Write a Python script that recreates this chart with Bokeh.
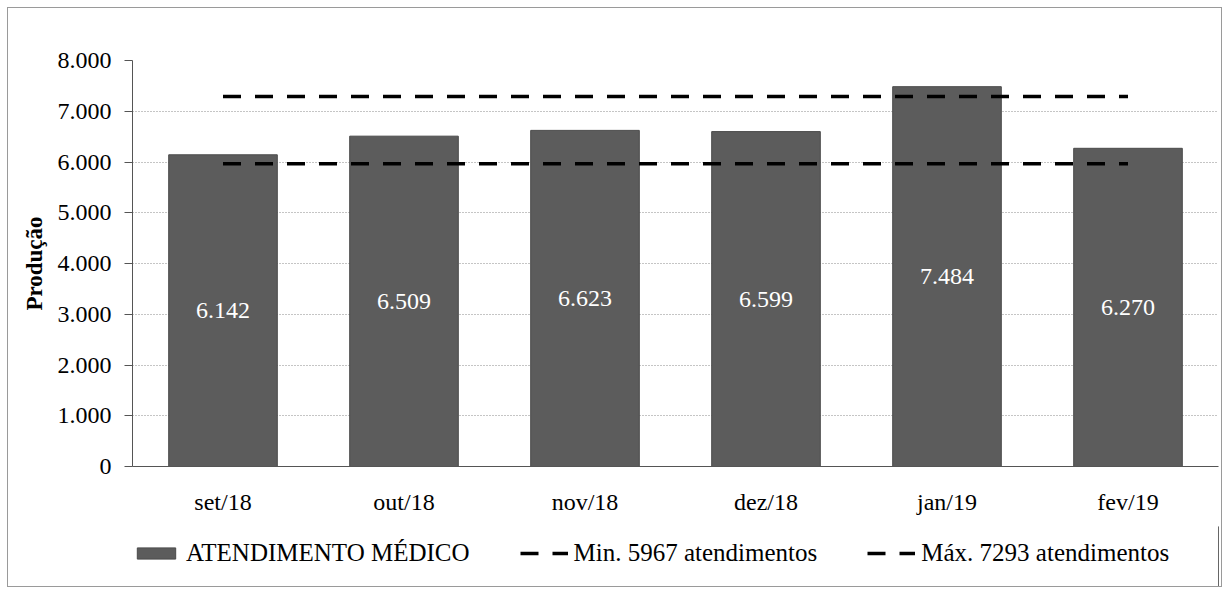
from bokeh.plotting import figure
from bokeh.layouts import column
from bokeh.models import ColumnDataSource, FixedTicker, Legend, LegendItem, Range1d, FactorRange
from bokeh.core.properties import value
from bokeh.embed import file_html
from bokeh.resources import INLINE

categories = ["set/18", "out/18", "nov/18", "dez/18", "jan/19", "fev/19"]
atendimentos = [6142, 6509, 6623, 6599, 7484, 6270]
minimo = 5967
maximo = 7293
y_ticks = [0, 1000, 2000, 3000, 4000, 5000, 6000, 7000, 8000]
series_names = ["ATENDIMENTO MÉDICO", f"Min. {minimo} atendimentos", f"Máx. {maximo} atendimentos"]

def fmt(v):
    return f"{v:,}".replace(",", ".")

src = ColumnDataSource(dict(
    x=categories,
    top=atendimentos,
    mid=[v / 2 for v in atendimentos],
    lbl=[fmt(v) for v in atendimentos],
))
lines = ColumnDataSource(dict(
    x=categories,
    mn=[minimo] * len(categories),
    mx=[maximo] * len(categories),
))

FONT = "'Liberation Serif', 'DejaVu Serif', serif"
BAR = dict(fill_color="#5c5c5c", line_color="#4a4a4a", line_width=1)
DASH = dict(line_color="black", line_width=3.5, line_dash="18 14")

p = figure(x_range=FactorRange(*categories, range_padding=0), y_range=Range1d(0, 8000),
           frame_width=1086, frame_height=406, output_backend="svg", toolbar_location=None,
           min_border_left=124, min_border_top=52, min_border_right=3, min_border_bottom=60)

p.vbar(x="x", top="top", width=0.6, source=src, **BAR)
p.line(x="x", y="mn", source=lines, **DASH)
p.line(x="x", y="mx", source=lines, **DASH)

p.text(x="x", y="mid", text="lbl", source=src, text_color="white", text_align="center",
       text_baseline="middle", text_font=value(FONT), text_font_size="24px")

p.outline_line_color = None
p.xgrid.grid_line_color = None
p.ygrid.grid_line_color = "#8a8a8a"
p.ygrid.grid_line_dash = "1 2"
p.ygrid.grid_line_width = 1

p.yaxis.ticker = FixedTicker(ticks=y_ticks)
p.yaxis.major_label_overrides = {t: fmt(t) for t in y_ticks}
p.yaxis.axis_label = "Produção"
p.yaxis.axis_label_text_font = FONT
p.yaxis.axis_label_text_font_style = "bold"
p.yaxis.axis_label_text_font_size = "23px"
p.yaxis.axis_label_text_color = "black"
p.yaxis.axis_label_standoff = 8
p.yaxis.major_tick_out = 8
p.yaxis.major_tick_in = 0
p.yaxis.minor_tick_line_color = None
p.yaxis.major_label_standoff = 13

for ax in (p.xaxis, p.yaxis):
    ax.major_label_text_font = FONT
    ax.major_label_text_font_size = "24px"
    ax.major_label_text_color = "black"
    ax.axis_line_color = "#555555"
    ax.major_tick_line_color = "#555555"

p.xaxis.major_tick_line_color = None
p.xaxis.major_label_standoff = 16

# legend strip below the chart (its glyphs sit outside the visible range)
leg = figure(width=1213, height=60, output_backend="svg", toolbar_location=None,
             x_range=Range1d(0, 1), y_range=Range1d(0, 1),
             x_axis_type=None, y_axis_type=None, min_border=0)
leg.outline_line_color = None
hidden = ColumnDataSource(dict(x=[5, 6], y=[5, 5], top=[5, 5]))
r_bar = leg.vbar(x="x", top="top", width=0.1, source=hidden, **BAR)
r_min = leg.line(x="x", y="y", source=hidden, **DASH)
r_max = leg.line(x="x", y="y", source=hidden, **DASH)

legend = Legend(items=[
    LegendItem(label=series_names[0], renderers=[r_bar]),
    LegendItem(label=series_names[1], renderers=[r_min]),
    LegendItem(label=series_names[2], renderers=[r_max]),
], orientation="horizontal", location=(0, 19), border_line_color=None,
   background_fill_alpha=0, label_text_font=FONT, label_text_font_size="25px",
   label_text_color="black", label_text_baseline="middle",
   glyph_width=48, glyph_height=14, spacing=50, label_standoff=6, margin=0, padding=0)
leg.add_layout(legend, "center")

layout = column(p, leg, spacing=0)
layout.styles = {"border": "1px solid #9a9a9a", "margin-left": "7px", "margin-top": "7px"}

open("out.html", "w").write(file_html(layout, INLINE))
